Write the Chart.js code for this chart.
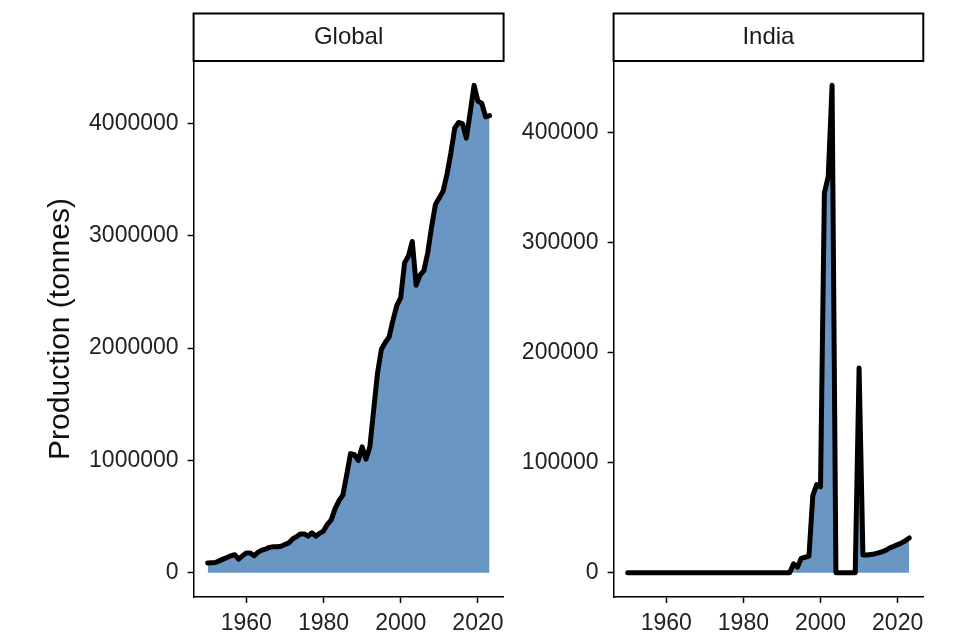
<!DOCTYPE html>
<html>
<head>
<meta charset="utf-8">
<script src="https://cdn.jsdelivr.net/npm/chart.js@4"></script>
<style>
  html, body { margin: 0; padding: 0; background: #fff; }
  #wrap { position: relative; width: 954px; height: 639px; overflow: hidden; }
  canvas { position: absolute; top: 0; }
  #globalChart { left: 0; }
  #indiaChart { left: 505px; }
</style>
</head>
<body>
<div id="wrap">
  <canvas id="globalChart" width="540" height="639"></canvas>
  <canvas id="indiaChart" width="449" height="639"></canvas>
</div>
<script>
// Data
const years = [
  1950, 1951, 1952, 1953, 1954, 1955, 1956, 1957, 1958, 1959,
  1960, 1961, 1962, 1963, 1964, 1965, 1966, 1967, 1968, 1969,
  1970, 1971, 1972, 1973, 1974, 1975, 1976, 1977, 1978, 1979,
  1980, 1981, 1982, 1983, 1984, 1985, 1986, 1987, 1988, 1989,
  1990, 1991, 1992, 1993, 1994, 1995, 1996, 1997, 1998, 1999,
  2000, 2001, 2002, 2003, 2004, 2005, 2006, 2007, 2008, 2009,
  2010, 2011, 2012, 2013, 2014, 2015, 2016, 2017, 2018, 2019,
  2020, 2021, 2022, 2023
];

const globalProduction = [
  85000, 88000, 90000, 105000, 120000, 135000, 150000, 160000, 120000, 150000,
  175000, 175000, 150000, 180000, 200000, 210000, 225000, 230000, 230000, 235000,
  250000, 265000, 300000, 320000, 345000, 345000, 325000, 355000, 325000, 350000,
  370000, 430000, 470000, 570000, 640000, 690000, 870000, 1060000, 1050000, 1000000,
  1120000, 1010000, 1120000, 1450000, 1780000, 1990000, 2050000, 2100000, 2250000, 2380000,
  2450000, 2760000, 2820000, 2950000, 2560000, 2650000, 2690000, 2850000, 3080000, 3280000,
  3340000, 3400000, 3550000, 3740000, 3960000, 4010000, 4000000, 3870000, 4100000, 4340000,
  4200000, 4180000, 4060000, 4070000
];

const indiaProduction = [
  0, 0, 0, 0, 0, 0, 0, 0, 0, 0,
  0, 0, 0, 0, 0, 0, 0, 0, 0, 0,
  0, 0, 0, 0, 0, 0, 0, 0, 0, 0,
  0, 0, 0, 0, 0, 0, 0, 0, 0, 0,
  0, 0, 0, 8000, 5000, 13000, 14000, 15000, 70000, 80000,
  78000, 345000, 360000, 443000, 0, 0, 0, 0, 0, 0,
  186000, 16000, 16000, 16500, 17000, 18000, 19000, 20500, 22500, 24000,
  25500, 27000, 29000, 31500
];

const xTicks = [1960, 1980, 2000, 2020];
const globalTicks = [0, 1000000, 2000000, 3000000, 4000000];
const indiaTicks = [0, 100000, 200000, 300000, 400000];

const FONT = "'Liberation Sans', Arial, sans-serif";
const FILL = '#6a96c4';

// facet strip on top of each panel
const stripPlugin = {
  id: 'strip',
  afterDraw(chart, args, opts) {
    const { ctx, chartArea } = chart;
    const top = 13.5, h = 47.5;
    ctx.save();
    ctx.fillStyle = '#fff';
    ctx.fillRect(chartArea.left, top, chartArea.right - chartArea.left, h);
    ctx.strokeStyle = '#000';
    ctx.lineWidth = 2;
    ctx.strokeRect(chartArea.left, top, chartArea.right - chartArea.left, h);
    ctx.fillStyle = '#1a1a1a';
    ctx.font = '24px ' + FONT;
    ctx.textAlign = 'center';
    ctx.textBaseline = 'middle';
    ctx.fillText(opts.text, (chartArea.left + chartArea.right) / 2, top + h / 2);
    ctx.restore();
  }
};

function makePanel(id, label, values, yTicks, axisWidth, padRight, yTitle) {
  const points = years.map((yr, i) => ({ x: yr, y: values[i] }));
  const maxVal = Math.max(...values);
  const minYear = years[0], maxYear = years[years.length - 1];
  const xPad = (maxYear - minYear) * 0.05;

  new Chart(document.getElementById(id), {
    type: 'line',
    data: {
      datasets: [{
        data: points,
        fill: 'origin',
        backgroundColor: FILL,
        borderColor: '#000',
        borderWidth: 5,
        borderJoinStyle: 'round',
        borderCapStyle: 'round',
        pointRadius: 0,
        tension: 0
      }]
    },
    plugins: [stripPlugin],
    options: {
      responsive: false,
      devicePixelRatio: 1,
      animation: false,
      layout: { padding: { top: 61, right: padRight, bottom: 0, left: 0 } },
      plugins: {
        legend: { display: false },
        tooltip: { enabled: false },
        strip: { text: label }
      },
      scales: {
        x: {
          type: 'linear',
          min: minYear - xPad,
          max: maxYear + xPad,
          afterBuildTicks: s => { s.ticks = xTicks.map(v => ({ value: v })); },
          afterFit: s => { s.height = 42; },
          grid: { drawOnChartArea: false, drawTicks: true, tickLength: 6, color: '#000', tickWidth: 1.5 },
          border: { display: true, color: '#000', width: 1.5 },
          ticks: {
            autoSkip: false,
            maxRotation: 0,
            padding: 7,
            color: '#222',
            font: { family: FONT, size: 23 },
            callback: v => String(v)
          }
        },
        y: {
          min: -maxVal * 0.05,
          max: maxVal * 1.05,
          afterBuildTicks: s => { s.ticks = yTicks.map(v => ({ value: v })); },
          afterFit: s => { s.width = axisWidth; },
          grid: { drawOnChartArea: false, drawTicks: true, tickLength: 6, color: '#000', tickWidth: 1.5 },
          border: { display: true, color: '#000', width: 1.5 },
          ticks: {
            padding: 9,
            color: '#222',
            font: { family: FONT, size: 23 },
            callback: v => String(v)
          },
          title: {
            display: !!yTitle,
            text: yTitle || '',
            color: '#111',
            font: { family: FONT, size: 30 },
            padding: { top: 43, bottom: 0 }
          }
        }
      }
    }
  });
}

makePanel('globalChart', 'Global', globalProduction, globalTicks, 193.6, 36.4, 'Production (tonnes)');
makePanel('indiaChart', 'India', indiaProduction, indiaTicks, 108.6, 30.7, null);
</script>
</body>
</html>
